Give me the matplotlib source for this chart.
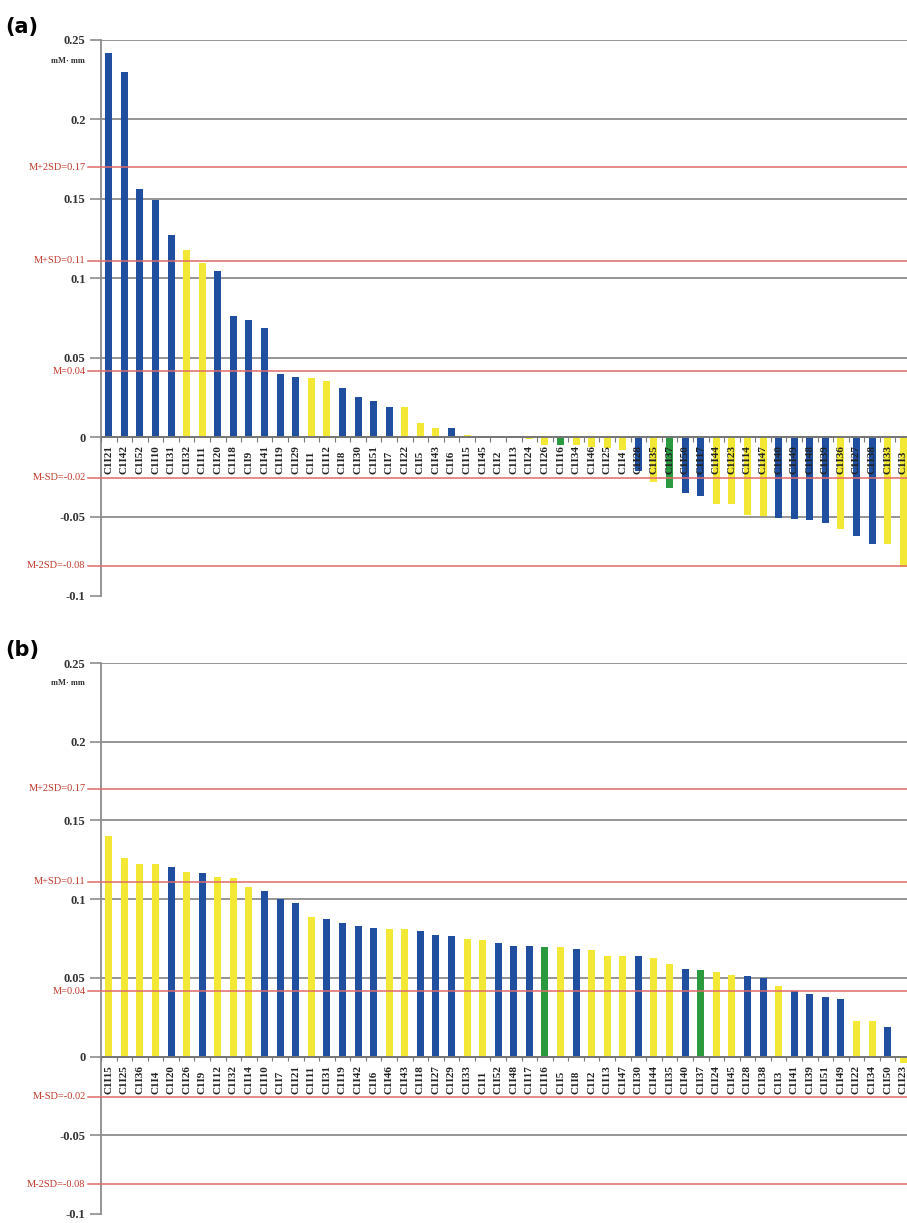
import matplotlib.pyplot as plt
import numpy as np

# sample order, values (mM*mm) and group colour code for each panel
names_a = [21, 42, 52, 10, 31, 32, 11, 20, 18, 9, 41, 19, 29, 1, 12, 8, 30, 51, 7, 22,
           5, 43, 6, 15, 45, 2, 13, 24, 26, 16, 34, 46, 25, 4, 28, 35, 37, 50, 17, 44,
           23, 14, 47, 40, 49, 48, 39, 36, 27, 38, 33, 3]
vals_a = [0.242, 0.230, 0.156, 0.149, 0.127, 0.118, 0.1096, 0.1046, 0.076, 0.0736,
          0.069, 0.040, 0.038, 0.037, 0.0352, 0.031, 0.0254, 0.0229, 0.019, 0.019,
          0.0086, 0.006, 0.0055, 0.0012, 0.001, 0.0005, -0.0005, -0.001, -0.005, -0.005,
          -0.005, -0.006, -0.007, -0.008, -0.021, -0.028, -0.032, -0.0354, -0.037, -0.042,
          -0.042, -0.049, -0.0495, -0.0507, -0.0518, -0.052, -0.054, -0.058, -0.062, -0.067,
          -0.067, -0.082]

names_b = [15, 25, 36, 4, 20, 26, 9, 12, 32, 14, 10, 7, 21, 11, 31, 19, 42, 6, 46, 43,
           18, 27, 29, 33, 1, 52, 48, 17, 16, 5, 8, 2, 13, 47, 30, 44, 35, 40, 37, 24,
           45, 28, 38, 3, 41, 39, 51, 49, 22, 34, 50, 23]
vals_b = [0.1403, 0.126, 0.1224, 0.1224, 0.1205, 0.1175, 0.1167, 0.1143, 0.1137, 0.108,
          0.105, 0.100, 0.0975, 0.0884, 0.0876, 0.0846, 0.0827, 0.0816, 0.081, 0.081,
          0.0797, 0.0772, 0.0766, 0.0747, 0.074, 0.0722, 0.0705, 0.0705, 0.0696, 0.0696,
          0.0686, 0.0677, 0.0641, 0.0641, 0.0637, 0.0624, 0.0586, 0.0555, 0.055, 0.054,
          0.052, 0.051, 0.0498, 0.045, 0.0416, 0.040, 0.0378, 0.0365, 0.0227, 0.0227,
          0.019, -0.004]

# group of each sample: b = blue, y = yellow, g = green
blue = [1, 2, 3, 4, 5, 8, 9, 10, 11, 12, 13, 16, 17, 18, 19, 23, 35, 38, 39, 44, 45, 46, 47, 49, 50]
group = {}
for k in range(52):
    group[names_a[k]] = 'b' if (k + 1) in blue else 'y'
group[16] = 'g'
group[37] = 'g'

ref_vals = [0.170, 0.111, 0.0415, -0.0255, -0.081]
ref_labels = ['M+2SD=0.17', 'M+SD=0.11', 'M=0.04', 'M-SD=-0.02', 'M-2SD=-0.08']
yticks = [-0.1, -0.05, 0, 0.05, 0.1, 0.15, 0.2, 0.25]
ytick_labels = ['-0.1', '-0.05', '0', '0.05', '0.1', '0.15', '0.2', '0.25']

colours = {'b': '#1f4f9e', 'y': '#f2e835', 'g': '#2b9a3f'}
serif = 'Liberation Serif'
grey = '#8c8c8c'

fig = plt.figure(figsize=(9.07, 12.23), dpi=100)


def panel(rect, names, vals, tag):
    ax = fig.add_axes(rect)
    x = np.arange(len(vals))
    cols = [colours[group[n]] for n in names]
    ax.bar(x, vals, width=0.45, color=cols, zorder=2)
    ax.set_xlim(-0.5, 51.5)
    ax.set_ylim(-0.1, 0.25)
    for v in yticks[1:]:
        ax.axhline(v, color=grey, lw=1.3, zorder=1)
    ax.axhline(0, color='#777777', lw=1.4, zorder=3)
    ax.vlines(np.arange(-0.5, 52), -0.003, 0, color='#777777', lw=0.8, zorder=3)
    for v, lab in zip(ref_vals, ref_labels):
        ax.plot([-0.016, 1.0], [v, v], transform=ax.get_yaxis_transform(),
                color='#e06a6a', lw=1.1, zorder=4, clip_on=False)
        ax.text(-0.019, v, lab, transform=ax.get_yaxis_transform(), ha='right',
                va='center', color='#c0392b', fontsize=7.5, family=serif)
    for i, n in enumerate(names):
        ax.text(i, -0.0235, 'C1I%d' % n, rotation=90, ha='center', va='bottom',
                fontsize=8, family=serif, fontweight='bold', color='#222222', zorder=5)
    ax.set_yticks(yticks)
    ax.set_yticklabels(ytick_labels, family=serif, fontweight='bold', fontsize=9,
                       color='#333333')
    ax.tick_params(axis='y', length=8, color=grey, width=1.2, pad=3)
    ax.set_xticks([])
    for s in ['top', 'right', 'bottom']:
        ax.spines[s].set_visible(False)
    ax.spines['left'].set_color(grey)
    ax.spines['left'].set_linewidth(1.3)
    ax.text(-0.02, 0.237, 'mM· mm', transform=ax.get_yaxis_transform(), ha='right',
            va='center', fontsize=6, family=serif, fontweight='bold', color='#333333')
    ax.text(-0.118, 1.005, tag, transform=ax.transAxes, ha='left', va='bottom',
            fontsize=15, fontweight='bold', family='DejaVu Sans')
    return ax


panel([101 / 907, 1 - 596 / 1223, 810 / 907, 556 / 1223], names_a, vals_a, '(a)')
panel([101 / 907, 1 - 1214 / 1223, 810 / 907, 551 / 1223], names_b, vals_b, '(b)')

fig.savefig('out.png', dpi=100)
